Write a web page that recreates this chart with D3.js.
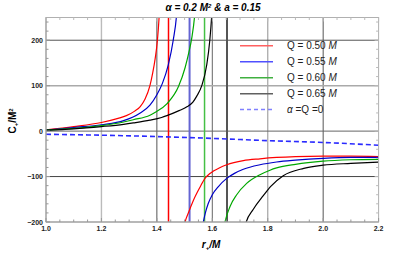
<!DOCTYPE html>
<html>
<head>
<meta charset="utf-8">
<script src="https://cdn.jsdelivr.net/npm/d3@7"></script>
<style>
  body { margin: 0; background: #fff; }
  text { font-family: "Liberation Sans", Arial, sans-serif; }
</style>
</head>
<body>
<div id="chart"></div>
<script>
// values: [r+/M, C+/M^2]
var redUpper   = [[1.0,3],[1.1,10],[1.2,19],[1.26,28],[1.29,34],[1.32,44],[1.34,54],[1.357,70],[1.375,100],[1.385,128],[1.394,160],[1.402,200],[1.408,250],[1.412,300]];
var redLower   = [[1.497,-215],[1.5,-205],[1.515,-178],[1.532,-152],[1.555,-124],[1.575,-103],[1.59,-94],[1.604,-88],[1.625,-81],[1.652,-74],[1.712,-65],[1.772,-61],[1.832,-58],[1.9,-56],[2.0,-55],[2.1,-55],[2.2,-56]];
var blueUpper  = [[1.0,2],[1.1,8],[1.2,14],[1.28,23],[1.34,40],[1.375,57],[1.4,80],[1.42,105],[1.441,145],[1.459,200],[1.471,255],[1.476,300]];
var blueLower  = [[1.563,-215],[1.566,-205],[1.575,-180],[1.585,-160],[1.6,-140],[1.622,-122],[1.652,-104],[1.68,-93],[1.712,-84],[1.772,-74],[1.832,-68],[1.9,-64],[2.0,-60],[2.1,-58],[2.2,-58]];
var greenUpper = [[1.0,2],[1.1,6],[1.2,12],[1.28,20],[1.315,25],[1.375,35],[1.393,41],[1.436,60],[1.478,98],[1.502,140],[1.515,172],[1.526,205],[1.536,252],[1.542,300]];
var greenLower = [[1.641,-215],[1.644,-205],[1.664,-166],[1.688,-140],[1.724,-115],[1.772,-96],[1.808,-86],[1.832,-81],[1.9,-73],[2.0,-66],[2.1,-63],[2.2,-62]];
var blackUpper = [[1.0,2],[1.1,5],[1.2,10],[1.28,15],[1.315,18],[1.375,24],[1.417,30],[1.436,34],[1.48,45],[1.51,54],[1.53,64],[1.545,78],[1.562,100],[1.58,146],[1.591,200],[1.598,255],[1.602,300]];
var blackLower = [[1.717,-215],[1.72,-205],[1.748,-172],[1.784,-142],[1.81,-122],[1.856,-98],[1.93,-82],[2.0,-75],[2.1,-71],[2.2,-68]];
var noCharge   = [[1.0,-7],[1.2,-9],[1.4,-12],[1.6,-16],[1.8,-21],[2.0,-25],[2.2,-31]];
var asymptotes = [1.442, 1.518, 1.572, 1.653];

var legendLabels = ["Q = 0.50 ", "Q = 0.55 ", "Q = 0.60 ", "Q = 0.65 "];
var xTicks = [1.0, 1.2, 1.4, 1.6, 1.8, 2.0, 2.2];
var yTicks = [-200, -100, 0, 100, 200];

var w = 415, h = 260;
var pLeft = 46, pRight = 378.6, pTop = 17.5, pBottom = 222;

var svg = d3.select('#chart').append('svg')
  .attr('width', w)
  .attr('height', h);

var x = d3.scaleLinear().domain([1.0, 2.2]).range([pLeft, pRight]);
var y = d3.scaleLinear().domain([-200, 250]).range([pBottom, pTop]);

svg.append("clipPath").attr("id", "clip")
  .append("rect")
  .attr("x", pLeft).attr("y", pTop)
  .attr("width", pRight - pLeft).attr("height", pBottom - pTop);

// grid lines (Mathematica mixes light and dark ones)
var xGrid = [[1.2,"#bbb",1.4],[1.4,"#555",1],[1.6,"#666",1],[1.8,"#aaa",1.3],[2.0,"#555",1]];
var yGrid = [[200,"#555",1],[100,"#aaa",1.5],[0,"#666",1],[-100,"#444",1]];

var grid = svg.append("g").attr("class", "grid");
grid.selectAll("line.gx").data(xGrid).enter().append("line")
  .attr("class", "gx")
  .attr("x1", function(d) { return x(d[0]); })
  .attr("x2", function(d) { return x(d[0]); })
  .attr("y1", pTop).attr("y2", pBottom)
  .attr("stroke", function(d) { return d[1]; })
  .attr("stroke-width", function(d) { return d[2]; });
grid.selectAll("line.gy").data(yGrid).enter().append("line")
  .attr("class", "gy")
  .attr("y1", function(d) { return y(d[0]); })
  .attr("y2", function(d) { return y(d[0]); })
  .attr("x1", pLeft).attr("x2", pRight)
  .attr("stroke", function(d) { return d[1]; })
  .attr("stroke-width", function(d) { return d[2]; });

// vertical lines at the divergences
var asymColors = ["#ff0000", "#6464d2", "#44c044", "#555"];
var asymWidths = [1.5, 2, 1.5, 2];
svg.append("g").selectAll("line.asym").data(asymptotes).enter().append("line")
  .attr("class", "asym")
  .attr("x1", function(d) { return x(d); })
  .attr("x2", function(d) { return x(d); })
  .attr("y1", pTop).attr("y2", pBottom)
  .attr("stroke", function(d, i) { return asymColors[i]; })
  .attr("stroke-width", function(d, i) { return asymWidths[i]; });

var line = d3.line()
  .x(function(d) { return x(d[0]); })
  .y(function(d) { return y(d[1]); })
  .curve(d3.curveMonotoneX);

var series = [
  [redUpper, "#ff0000"], [redLower, "#ff0000"],
  [blueUpper, "#0000c8"], [blueLower, "#0000c8"],
  [greenUpper, "#00a800"], [greenLower, "#00a800"],
  [blackUpper, "#000"], [blackLower, "#000"]
];

var curves = svg.append("g").attr("clip-path", "url(#clip)");
curves.append("path")
  .attr("d", line(noCharge))
  .attr("fill", "none")
  .attr("stroke", "#2a2aff")
  .attr("stroke-width", 1.6)
  .attr("stroke-dasharray", "5,3");
curves.selectAll("path.q").data(series).enter().append("path")
  .attr("class", "q")
  .attr("d", function(s) { return line(s[0]); })
  .attr("fill", "none")
  .attr("stroke", function(s) { return s[1]; })
  .attr("stroke-width", 1.2);

// frame with inward ticks
var frame = svg.append("g");
frame.append("rect")
  .attr("x", pLeft).attr("y", pTop)
  .attr("width", pRight - pLeft).attr("height", pBottom - pTop)
  .attr("fill", "none").attr("stroke", "#b0b0b0").attr("stroke-width", 1);
frame.append("line").attr("x1", pLeft).attr("x2", pLeft).attr("y1", pTop).attr("y2", pBottom)
  .attr("stroke", "#999");
frame.append("line").attr("x1", pLeft).attr("x2", pRight).attr("y1", pBottom).attr("y2", pBottom)
  .attr("stroke", "#999");

var xMinor = d3.range(1.0, 2.2001, 0.05);
var yMinor = d3.range(-200, 250.1, 20);
function isMajorX(v) { return Math.abs(v * 5 - Math.round(v * 5)) < 1e-6; }
function isMajorY(v) { return Math.abs(v % 100) < 1e-6; }

frame.selectAll("line.tx").data(xMinor).enter().append("line").attr("class", "tx")
  .attr("x1", function(d) { return x(d); }).attr("x2", function(d) { return x(d); })
  .attr("y1", pBottom).attr("y2", function(d) { return pBottom - (isMajorX(d) ? 4 : 2.5); })
  .attr("stroke", "#999");
frame.selectAll("line.tx2").data(xMinor).enter().append("line").attr("class", "tx2")
  .attr("x1", function(d) { return x(d); }).attr("x2", function(d) { return x(d); })
  .attr("y1", pTop).attr("y2", function(d) { return pTop + (isMajorX(d) ? 4 : 2.5); })
  .attr("stroke", "#bbb");
frame.selectAll("line.ty").data(yMinor).enter().append("line").attr("class", "ty")
  .attr("y1", function(d) { return y(d); }).attr("y2", function(d) { return y(d); })
  .attr("x1", pLeft).attr("x2", function(d) { return pLeft + (isMajorY(d) ? 4 : 2.5); })
  .attr("stroke", "#999");
frame.selectAll("line.ty2").data(yMinor).enter().append("line").attr("class", "ty2")
  .attr("y1", function(d) { return y(d); }).attr("y2", function(d) { return y(d); })
  .attr("x1", pRight).attr("x2", function(d) { return pRight - (isMajorY(d) ? 4 : 2.5); })
  .attr("stroke", "#bbb");

// tick labels
svg.append("g").selectAll("text").data(xTicks).enter().append("text")
  .attr("x", function(d) { return x(d); })
  .attr("y", pBottom + 9)
  .attr("text-anchor", "middle")
  .attr("font-size", 7).attr("font-weight", "bold").attr("fill", "#222")
  .text(function(d) { return d.toFixed(1); });
svg.append("g").selectAll("text").data(yTicks).enter().append("text")
  .attr("x", pLeft - 3)
  .attr("y", function(d) { return y(d) + 2.5; })
  .attr("text-anchor", "end")
  .attr("font-size", 7).attr("font-weight", "bold").attr("fill", "#222")
  .text(function(d) { return d < 0 ? "\u2212" + Math.abs(d) : d; });

// titles
var title = svg.append("text")
  .attr("x", 213).attr("y", 11)
  .attr("text-anchor", "middle")
  .attr("font-size", 10).attr("font-weight", "bold").attr("font-style", "italic");
title.append("tspan").text("\u03b1 = 0.2 M");
title.append("tspan").attr("font-size", 6).attr("dy", -3.5).text("2");
title.append("tspan").attr("dy", 3.5).text("  & a = 0.15");

var xl = svg.append("text")
  .attr("x", 211).attr("y", 248)
  .attr("text-anchor", "middle")
  .attr("font-size", 10).attr("font-weight", "bold").attr("font-style", "italic");
xl.append("tspan").text("r");
xl.append("tspan").attr("font-size", 6).attr("dy", 2).text("+");
xl.append("tspan").attr("dy", -2).text("/M");

var yl = svg.append("text")
  .attr("transform", "translate(16,121) rotate(-90)")
  .attr("text-anchor", "middle")
  .attr("font-size", 10).attr("font-weight", "bold");
yl.append("tspan").text("C");
yl.append("tspan").attr("font-size", 6).attr("dy", 2).text("+");
yl.append("tspan").attr("dy", -2).text("/M");
yl.append("tspan").attr("font-size", 6).attr("dy", -3.5).text("2");

// legend (swatch rows shifted by whole pixels)
var legendColors = ["#ff6060", "#5050ff", "#40b040", "#606060"];
var legendY = [45, 61, 77, 93, 109];
var lg = svg.append("g").attr("class", "legend");
lg.selectAll("rect.sw").data(legendLabels).enter().append("rect")
  .attr("class", "sw")
  .attr("x", 240).attr("width", 33)
  .attr("y", function(d, i) { return legendY[i]; })
  .attr("height", 1.5)
  .attr("fill", function(d, i) { return legendColors[i]; });
var lt = lg.selectAll("text.lab").data(legendLabels).enter().append("text")
  .attr("class", "lab")
  .attr("x", 287).attr("y", function(d, i) { return legendY[i] + 4; })
  .attr("font-size", 10).attr("fill", "#222");
lt.append("tspan").text(function(d) { return d; });
lt.append("tspan").attr("font-style", "italic").text("M");

lg.append("line")
  .attr("x1", 240).attr("x2", 273)
  .attr("y1", legendY[4] + 0.5).attr("y2", legendY[4] + 0.5)
  .attr("stroke", "#8080ff").attr("stroke-width", 1.3)
  .attr("stroke-dasharray", "4,3");
var t5 = lg.append("text")
  .attr("x", 287).attr("y", legendY[4] + 4)
  .attr("font-size", 10).attr("fill", "#222");
t5.append("tspan").attr("font-style", "italic").text("\u03b1");
t5.append("tspan").text(" =Q =0");
</script>
</body>
</html>
